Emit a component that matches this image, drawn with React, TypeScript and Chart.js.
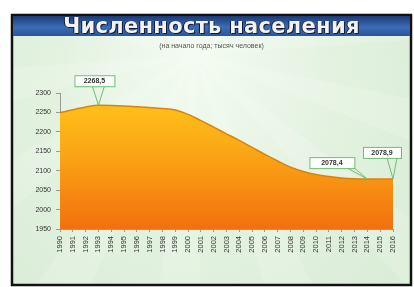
import React, { useEffect, useRef } from "react";
import { Chart, registerables } from "chart.js";
Chart.register(...registerables);

const years = [
  "1990", "1991", "1992", "1993", "1994", "1995", "1996", "1997", "1998",
  "1999", "2000", "2001", "2002", "2003", "2004", "2005", "2006", "2007",
  "2008", "2009", "2010", "2011", "2012", "2013", "2014", "2015", "2016",
];
const population = [
  2249.0, 2257.0, 2264.0, 2268.5, 2267.9, 2266.5, 2264.5, 2262.5, 2260.0,
  2256.0, 2245.0, 2229.0, 2212.0, 2195.0, 2178.0, 2160.0, 2142.0, 2125.0,
  2109.0, 2098.0, 2090.0, 2085.0, 2081.5, 2079.5, 2078.4, 2078.6, 2078.9,
];
const yMin = 1950;
const yMax = 2300;
const yStep = 50;
const calloutIndex = [3, 24, 26];
const calloutText = ["2268,5", "2078,4", "2078,9"];
const titleText = "Численность населения";
const subtitleText = "(на начало года; тысяч человек)";

export default function App() {
  const ref = useRef<HTMLCanvasElement>(null);
  useEffect(() => {
    document.body.style.margin = "0";
    const canvas = ref.current!;
    const bgPlugin = {
      id: "bg",
      beforeDraw(chart: any) {
        const ctx = chart.ctx as CanvasRenderingContext2D;
        ctx.save();
        ctx.fillStyle = "#ffffff";
        ctx.fillRect(0, 0, 414, 287);
        const fx = 12, fy = 15, fw = 399, fh = 270;
        const g = ctx.createRadialGradient(195, 55, 5, 195, 120, 320);
        g.addColorStop(0, "#f4fbf2");
        g.addColorStop(0.45, "#e2f2df");
        g.addColorStop(1, "#d6ebd3");
        ctx.fillStyle = g;
        ctx.fillRect(fx, fy, fw, fh);
        ctx.beginPath();
        ctx.rect(fx, fy, fw, fh);
        ctx.clip();
        const cx = 195, cy = 55, n = 14;
        for (let i = 0; i < n; i++) {
          const a0 = (Math.PI * 2 * i) / n + 0.2;
          const a1 = a0 + (Math.PI / n) * 0.8;
          ctx.beginPath();
          ctx.moveTo(cx, cy);
          ctx.arc(cx, cy, 500, a0, a1);
          ctx.closePath();
          ctx.fillStyle = "rgba(255,255,255,0.16)";
          ctx.fill();
        }
        ctx.restore();
        ctx.save();
        ctx.strokeStyle = "#111111";
        ctx.lineWidth = 2.5;
        ctx.strokeRect(fx, fy, fw, fh);
        ctx.restore();
      },
    };
    const calloutPlugin = {
      id: "callouts",
      afterDatasetsDraw(chart: any) {
        const ctx = chart.ctx as CanvasRenderingContext2D;
        const meta = chart.getDatasetMeta(0);
        const boxes = [
          { dx: -24, dy: -30, w: 40, h: 11, tx0: 18, tx1: 30 },
          { dx: -58, dy: -22, w: 45, h: 11, tx0: 38, tx1: 45 },
          { dx: -30, dy: -32, w: 38, h: 11, tx0: 24, tx1: 34 },
        ];
        calloutIndex.forEach((idx, k) => {
          const p = meta.data[idx];
          const b = boxes[k];
          const bx = p.x + b.dx, by = p.y + b.dy;
          ctx.save();
          ctx.strokeStyle = "#6fbf73";
          ctx.lineWidth = 1;
          ctx.fillStyle = "#ffffff";
          ctx.beginPath();
          ctx.moveTo(bx + b.tx0, by + b.h);
          ctx.lineTo(p.x, p.y);
          ctx.lineTo(bx + b.tx1, by + b.h);
          ctx.stroke();
          ctx.fillRect(bx, by, b.w, b.h);
          ctx.strokeRect(bx + 0.5, by + 0.5, b.w, b.h);
          ctx.fillStyle = "#333333";
          ctx.font = "bold 7px 'Liberation Sans', Arial, sans-serif";
          ctx.textAlign = "center";
          ctx.textBaseline = "middle";
          ctx.fillText(calloutText[k], bx + b.w / 2, by + b.h / 2 + 0.5);
          ctx.restore();
        });
      },
    };
    const chart = new Chart(canvas, {
      type: "line",
      data: {
        labels: years,
        datasets: [
          {
            data: population,
            borderColor: "#d9820f",
            borderWidth: 1.5,
            pointRadius: 0,
            cubicInterpolationMode: "monotone",
            fill: "start",
            backgroundColor: (c: any) => {
              const area = c.chart.chartArea;
              if (!area) return "#f9a21a";
              const g = c.chart.ctx.createLinearGradient(0, area.top, 0, area.bottom);
              g.addColorStop(0, "#ffc61c");
              g.addColorStop(0.45, "#fba515");
              g.addColorStop(1, "#f2700e");
              return g;
            },
          },
        ],
      },
      options: {
        animation: false,
        responsive: false,
        layout: { padding: { left: 0, right: 21, top: 93, bottom: 0 } },
        plugins: { legend: { display: false }, tooltip: { enabled: false } },
        scales: {
          x: {
            offset: false,
            grid: { display: true, drawOnChartArea: false, tickLength: 3, color: "#999" },
            border: { display: true, color: "#999" },
            ticks: {
              autoSkip: false,
              maxRotation: 90,
              minRotation: 90,
              padding: 4,
              color: "#333",
              font: { size: 7.5, family: "'Liberation Sans', Arial, sans-serif" },
            },
            afterFit: (s: any) => { s.height = 58; },
          },
          y: {
            min: yMin,
            max: yMax,
            grid: { display: true, drawOnChartArea: false, tickLength: 4, color: "#999" },
            border: { display: true, color: "#999" },
            ticks: {
              stepSize: yStep,
              padding: 5,
              color: "#333",
              font: { size: 7, family: "'Liberation Sans', Arial, sans-serif" },
              callback: (v: any) => String(v),
            },
            afterFit: (s: any) => { s.width = 60; },
          },
        },
      },
      plugins: [bgPlugin, calloutPlugin],
    });
    return () => chart.destroy();
  }, []);
  return (
    <div style={{ position: "relative", width: 414, height: 287 }}>
      <canvas ref={ref} width={414} height={287} style={{ display: "block" }} />
      <div
        style={{
          position: "absolute",
          left: 13,
          top: 16,
          width: 397,
          height: 20,
          background: "linear-gradient(to bottom, #1c3a76 0%, #3b6cb6 55%, #2b5596 100%)",
          color: "#f2f2f2",
          fontFamily: "'DejaVu Sans', sans-serif",
          fontWeight: "bold",
          fontSize: 21,
          lineHeight: "20px",
          textAlign: "center",
          textShadow: "1px 1px 0 #101c3c, -1px 0 0 #101c3c",
          letterSpacing: 0.3,
        }}
      >
        {titleText}
      </div>
      <div
        style={{
          position: "absolute",
          left: 13,
          top: 42,
          width: 397,
          textAlign: "center",
          fontFamily: "'Liberation Sans', Arial, sans-serif",
          fontSize: 7,
          color: "#555",
        }}
      >
        {subtitleText}
      </div>
    </div>
  );
}
